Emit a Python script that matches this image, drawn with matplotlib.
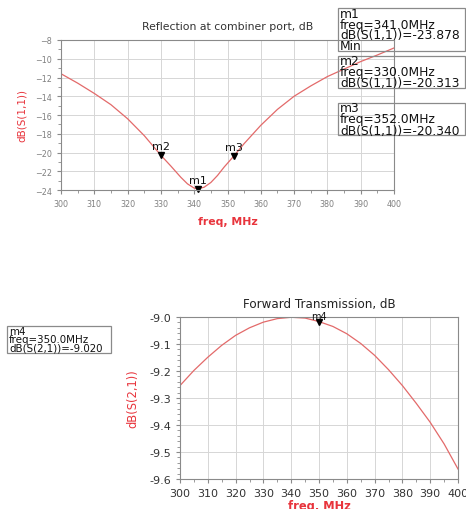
import numpy as np
import matplotlib.pyplot as plt
from matplotlib.patches import Rectangle
from matplotlib.ticker import MultipleLocator

# S11 reflection
f11 = [300, 305, 310, 315, 320, 325, 330, 333, 336, 338, 340, 341, 343, 345,
       347, 349, 352, 355, 360, 365, 370, 375, 380, 385, 390, 395, 400]
s11 = [-11.6, -12.6, -13.7, -14.9, -16.4, -18.2, -20.3, -21.45, -22.65, -23.35,
       -23.8, -23.88, -23.7, -23.2, -22.45, -21.55, -20.34, -19.05, -17.1,
       -15.4, -14.0, -12.9, -11.9, -11.1, -10.3, -9.6, -8.85]

# S21 forward transmission
f21 = [300, 305, 310, 315, 320, 325, 330, 335, 340, 345, 350, 355, 360, 365,
       370, 375, 380, 385, 390, 395, 400]
s21 = [-9.254, -9.198, -9.149, -9.105, -9.068, -9.040, -9.019, -9.006, -9.001,
       -9.004, -9.017, -9.035, -9.062, -9.098, -9.142, -9.195, -9.254, -9.32,
       -9.39, -9.47, -9.563]

markers11 = [("m1", 341.0, -23.878), ("m2", 330.0, -20.313), ("m3", 352.0, -20.340)]
markers21 = [("m4", 350.0, -9.020)]

W, H = 466, 510
plt.rcParams["font.family"] = ["DejaVu Sans"]
fig = plt.figure(figsize=(W / 100, H / 100), dpi=100)

curve_c = "#e36a6a"
red = "#e8343c"
grid_c = "#d6d6d6"
spine_c = "#8a8a8a"


def px_axes(x0, y0, x1, y1):
    return fig.add_axes([x0 / W, 1 - y1 / H, (x1 - x0) / W, (y1 - y0) / H])


def style(ax, tick_color, fs):
    for s in ax.spines.values():
        s.set_color(spine_c)
        s.set_linewidth(0.8)
    ax.grid(True, which="major", color=grid_c, lw=0.7)
    ax.tick_params(which="both", direction="out", colors=spine_c,
                   labelcolor=tick_color, labelsize=fs)
    ax.tick_params(which="major", length=3)
    ax.tick_params(which="minor", length=2)
    ax.set_axisbelow(True)


def marker_box(x0, y0, x1, y1, text, fs, ls):
    fig.add_artist(Rectangle((x0 / W, 1 - y1 / H), (x1 - x0) / W, (y1 - y0) / H,
                             transform=fig.transFigure, fill=False,
                             ec=spine_c, lw=0.9))
    fig.text((x0 + 2) / W, 1 - (y0 + (y1 - y0) / 2) / H, text, fontsize=fs,
             va="center", ha="left", color="#111111", linespacing=ls)


# ---------- top: reflection ----------
ax1 = px_axes(61, 41, 394, 191)
ax1.plot(f11, s11, color=curve_c, lw=0.9)
ax1.set_xlim(300, 400)
ax1.set_ylim(-24, -8)
ax1.xaxis.set_major_locator(MultipleLocator(10))
ax1.xaxis.set_minor_locator(MultipleLocator(5))
ax1.yaxis.set_major_locator(MultipleLocator(2))
ax1.yaxis.set_minor_locator(MultipleLocator(1))
style(ax1, "#808080", 5.8)
ax1.set_title("Reflection at combiner port, dB", fontsize=7.8, color="#333333", pad=8)
ax1.set_xlabel("freq, MHz", color=red, fontsize=7.8, fontweight="bold", labelpad=6)
ax1.set_ylabel("dB(S(1,1))", color=red, fontsize=7.5, labelpad=6)
for name, fx, fy in markers11:
    ax1.plot(fx, fy, marker="v", color="black", ms=4.5, clip_on=False)
    ax1.annotate(name, (fx, fy), xytext=(0, 3), textcoords="offset points",
                 ha="center", va="bottom", fontsize=8, color="#111111")

marker_box(338, 9, 465, 52, "m1\nfreq=341.0MHz\ndB(S(1,1))=-23.878\nMin", 8.8, 0.8)
marker_box(338, 57, 465, 89, "m2\nfreq=330.0MHz\ndB(S(1,1))=-20.313", 8.8, 0.8)
marker_box(338, 104, 465, 136, "m3\nfreq=352.0MHz\ndB(S(1,1))=-20.340", 8.8, 0.8)

# ---------- bottom: transmission ----------
ax2 = px_axes(180, 318, 458, 480)
ax2.plot(f21, s21, color=curve_c, lw=0.9)
ax2.set_xlim(300, 400)
ax2.set_ylim(-9.6, -9.0)
ax2.xaxis.set_major_locator(MultipleLocator(10))
ax2.xaxis.set_minor_locator(MultipleLocator(5))
ax2.yaxis.set_major_locator(MultipleLocator(0.1))
ax2.yaxis.set_minor_locator(MultipleLocator(0.02))
ax2.yaxis.set_major_formatter(lambda v, p: f"{v:.1f}")
style(ax2, "#333333", 8)
ax2.set_title("Forward Transmission, dB", fontsize=8.6, color="#222222", pad=7)
ax2.set_xlabel("freq, MHz", color=red, fontsize=8.3, fontweight="bold", labelpad=1)
ax2.set_ylabel("dB(S(2,1))", color=red, fontsize=8.3, labelpad=7)
for name, fx, fy in markers21:
    ax2.plot(fx, fy, marker="v", color="black", ms=4, clip_on=False)
    ax2.annotate(name, (fx, fy), xytext=(0, 1), textcoords="offset points",
                 ha="center", va="bottom", fontsize=7, color="#111111")

marker_box(7, 327, 111, 354, "m4\nfreq=350.0MHz\ndB(S(2,1))=-9.020", 7.4, 0.75)

fig.savefig("out.png", dpi=100)
